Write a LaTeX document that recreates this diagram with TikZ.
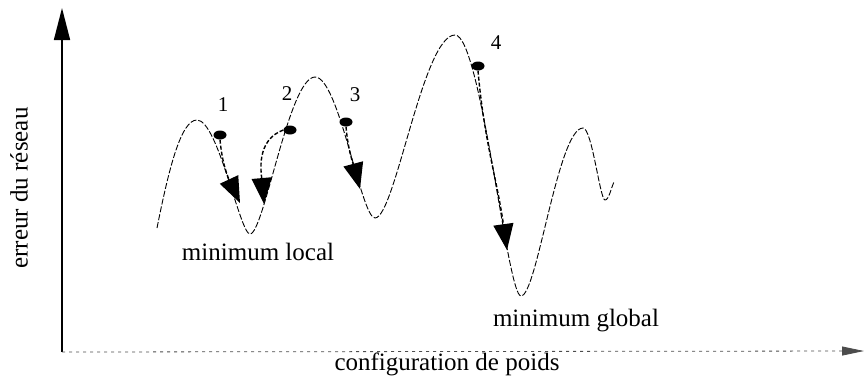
\documentclass[tikz,border=0pt]{standalone}
\usepackage{fontspec}
\setmainfont{Liberation Serif}
\usetikzlibrary{arrows.meta,shapes.geometric}
\begin{document}
\begin{tikzpicture}[x=1pt,y=-1pt,
  curve/.style={line width=0.9pt,dash pattern=on 6pt off 2pt},
  jump/.style={line width=1.4pt,dash pattern=on 4pt off 2pt,-{Triangle[width=20pt,length=26pt]}},
  startdot/.style={fill=black,ellipse,inner sep=0pt,minimum width=13pt,minimum height=9pt},
  lbl/.style={font=\fontsize{25}{28}\selectfont,inner sep=0pt},
  num/.style={font=\fontsize{21}{24}\selectfont,inner sep=0pt}]
\useasboundingbox (0,0) rectangle (867,376);
% axes
\coordinate (o) at (62,352);
\coordinate (ytop) at (62,8);
\coordinate (xend) at (864,351);
\draw[line width=1.6pt,-{Triangle[width=16pt,length=32pt]}] (o) -- (ytop);
\draw[line width=0.8pt,black!70,dash pattern=on 3pt off 4pt,-{Triangle[width=9pt,length=22pt]}] (o) -- (xend);
% energy curve
\draw[curve] (157,228) .. controls +(12,-60) and +(-16,0) .. (197,120)
  .. controls +(21,0) and +(-10,0) .. (250,234)
  .. controls +(14,0) and +(-26,0) .. (315,77)
  .. controls +(24,0) and +(-14,0) .. (375,218)
  .. controls +(20,0) and +(-32,0) .. (455,35)
  .. controls +(26,0) and +(-14,0) .. (521,296)
  .. controls +(16,0) and +(-25,0) .. (583,128)
  .. controls +(9,0) and +(-5,0) .. (605,200)
  .. controls +(4,0) and +(-3,6) .. (614,182);
% start points
\node[startdot] (p1) at (220,135) {};
\node[startdot] (p2) at (290,130) {};
\node[startdot] (p3) at (346,122) {};
\node[startdot] (p4) at (478,66) {};
\coordinate (e1) at (240,203);
\coordinate (e2) at (264,204);
\coordinate (e3) at (360,189);
\coordinate (e4) at (507,250);
\draw[jump] (p1.south) to[out=-85,in=115] (e1);
\draw[jump] (p2.west) to[out=200,in=95] (e2);
\draw[jump] (p3.south) to[out=-85,in=105] (e3);
\draw[jump] (p4.south) to[out=-85,in=98] (e4);
% numbers
\node[num] (n1) at (223,105) {1};
\node[num] (n2) at (287,94) {2};
\node[num] (n3) at (355,95) {3};
\node[num] (n4) at (496,43) {4};
% labels
\node[lbl] (ml) at (258,252) {minimum local};
\node[lbl] (mg) at (576,321) {minimum global};
\node[lbl] (xl) at (447,364) {configuration de poids};
\node[lbl,rotate=90] (yl) at (19,188) {erreur du réseau};
\end{tikzpicture}
\end{document}
